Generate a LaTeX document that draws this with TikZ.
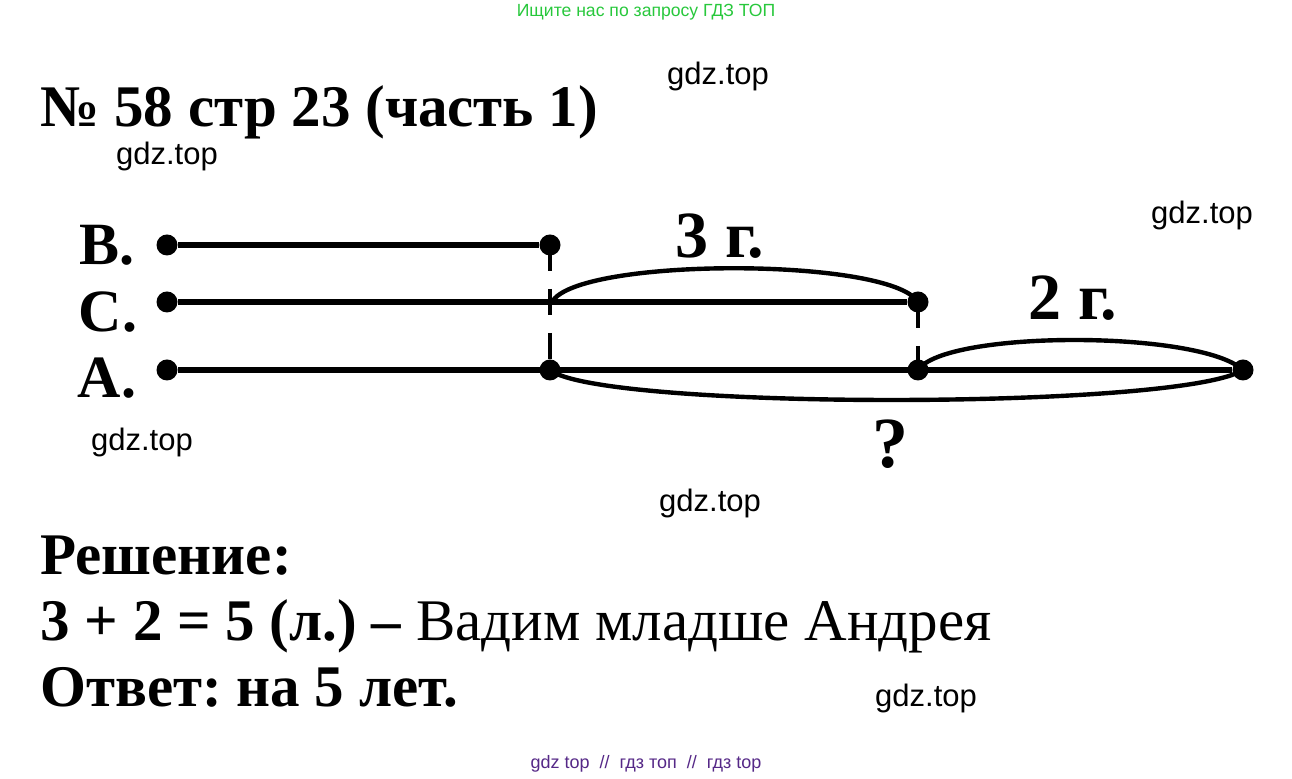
\documentclass[tikz,border=0pt]{standalone}
\usepackage{fontspec}
\setmainfont{Liberation Serif}
\setsansfont{Liberation Sans}
\usetikzlibrary{positioning}
\frenchspacing

\definecolor{wmgreen}{RGB}{40,200,60}
\definecolor{wmpurple}{RGB}{85,40,135}

\begin{document}
\begin{tikzpicture}[
    x=0.5pt, y=-0.5pt,
    dot/.style={circle, fill=black, inner sep=0pt, minimum size=10.5pt},
    seg/.style={line width=2.9pt},
    guide/.style={line width=1.7pt, dash pattern=on 13pt off 9pt},
    arc/.style={line width=2.2pt},
    big/.style={font=\bfseries\fontsize{29.5}{34}\selectfont, inner sep=0pt, anchor=base west},
    lbl/.style={font=\bfseries\fontsize{30}{34}\selectfont, inner sep=0pt},
    wm/.style={font=\sffamily\fontsize{15.5}{18}\selectfont, inner sep=0pt},
]
    \useasboundingbox[fill=white] (0,0) rectangle (1292,779);

    % header and watermarks
    \node[font=\sffamily\fontsize{8.8}{10}\selectfont, text=wmgreen] (top) at (646,12) {Ищите нас по запросу ГДЗ ТОП};
    \node[big] (title) at (40,127) {№ 58 стр 23 (часть 1)};
    \node[wm] (w1) at (718,76) {gdz.top};
    \node[wm] (w2) at (167,156) {gdz.top};
    \node[wm] (w3) at (1202,215) {gdz.top};
    \node[wm] (w4) at (142,442) {gdz.top};
    \node[wm] (w5) at (710,503) {gdz.top};
    \node[wm] (w6) at (926,698) {gdz.top};

    % points of the three segments
    \node[dot] (b0) at (167,245) {};
    \node[dot] (b1) at (550,245) {};
    \node[dot] (c0) at (167,302) {};
    \coordinate (c1) at (552,302);
    \node[dot] (c2) at (918,302) {};
    \node[dot] (a0) at (167,370) {};
    \node[dot] (a1) at (550,370) {};
    \node[dot] (a2) at (918,370) {};
    \node[dot] (a3) at (1243,370) {};

    \node[lbl] (lb) at (107,245) {B.};
    \node[lbl] (lc) at (108,312) {C.};
    \node[lbl] (la) at (107,378) {A.};

    \draw[seg] (b0) -- (b1);
    \draw[seg] (c0) -- (c2);
    \draw[seg] (a0) -- (a3);
    \draw[guide] (b1.center) -- (a1.center);
    \draw[guide] (c2.center) -- (a2.center);

    % brackets
    \draw[arc] (c1) .. controls +(25,-45) and +(-28,-45) .. (c2.center);
    \draw[arc] (a2.center) .. controls +(27,-40) and +(-43,-40) .. (a3.center);
    \draw[arc] (a1.center) .. controls +(50,40) and +(-63,40) .. (a3.center);
    \node[lbl, font=\bfseries\fontsize{33}{36}\selectfont] (d3) at (720,236) {3 г.};
    \node[lbl, font=\bfseries\fontsize{33}{36}\selectfont] (d2) at (1073,298) {2 г.};
    \node[lbl, font=\bfseries\fontsize{36}{40}\selectfont] (dq) at (890,444) {?};

    % solution
    \node[big] (sol) at (40,575) {Решение:};
    \node[big] (eq) at (40,641) {3 + 2 = 5 (л.) –\mdseries{} Вадим младше Андрея};
    \node[big] (ans) at (40,707) {Ответ: на 5 лет.};
    \node[font=\sffamily\fontsize{9}{10}\selectfont, text=wmpurple] (bot) at (646,764) {gdz top \ // \ гдз топ \ // \ гдз top};
\end{tikzpicture}
\end{document}
